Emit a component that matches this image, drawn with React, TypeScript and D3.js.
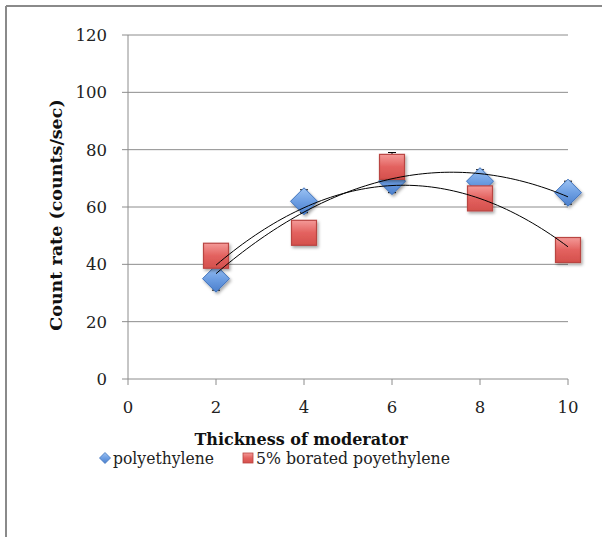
import React from "react";
import * as d3 from "d3";

const thickness = [2, 4, 6, 8, 10];
const polyethylene = [35, 62, 69, 69, 65];
const polyErr = [4, 4, 4, 4, 4];
const borated = [43, 51, 74, 63, 45];
const boratedErr = [3, 3, 5, 3, 3];
const yTicks = [0, 20, 40, 60, 80, 100, 120];
const xTicks = [0, 2, 4, 6, 8, 10];
const seriesNames = ["polyethylene", "5% borated poyethylene"];

function quadFit(xs: number[], ys: number[]) {
  // least squares y = a + b x + c x^2
  const n = xs.length;
  let s = [0, 0, 0, 0, 0];
  let t = [0, 0, 0];
  for (let i = 0; i < n; i++) {
    const x = xs[i], y = ys[i];
    for (let k = 0; k < 5; k++) s[k] += Math.pow(x, k);
    for (let k = 0; k < 3; k++) t[k] += y * Math.pow(x, k);
  }
  const M = [
    [s[0], s[1], s[2], t[0]],
    [s[1], s[2], s[3], t[1]],
    [s[2], s[3], s[4], t[2]],
  ];
  for (let i = 0; i < 3; i++) {
    let p = i;
    for (let r = i + 1; r < 3; r++) if (Math.abs(M[r][i]) > Math.abs(M[p][i])) p = r;
    [M[i], M[p]] = [M[p], M[i]];
    for (let r = 0; r < 3; r++) {
      if (r === i) continue;
      const f = M[r][i] / M[i][i];
      for (let c = i; c < 4; c++) M[r][c] -= f * M[i][c];
    }
  }
  const a = M[0][3] / M[0][0], b = M[1][3] / M[1][1], c = M[2][3] / M[2][2];
  return (x: number) => a + b * x + c * x * x;
}

export default function App() {
  const W = 602, H = 537;
  const x = d3.scaleLinear().domain([0, 10]).range([128, 568]);
  const y = d3.scaleLinear().domain([0, 120]).range([379, 35]);
  const font = "'DejaVu Serif', serif";
  const grid = "#8c8c8c";

  const trend = (ys: number[]) => {
    const f = quadFit(thickness, ys);
    const pts = d3.range(2, 10.001, 0.1).map((v) => [v, f(v)] as [number, number]);
    return d3.line<[number, number]>().x((d) => x(d[0])).y((d) => y(d[1]))(pts) || "";
  };

  const sq = 25, dg = 13.5;
  const diamond = (cx: number, cy: number, r: number) =>
    `M${cx},${cy - r}L${cx + r},${cy}L${cx},${cy + r}L${cx - r},${cy}Z`;

  return (
    <svg width={W} height={H} style={{ position: "absolute", left: 0, top: 0, background: "#fff" }}>
      <defs>
        <linearGradient id="gRed" x1="0" y1="0" x2="0" y2="1">
          <stop offset="0" stopColor="#f49a98" />
          <stop offset="0.5" stopColor="#e3625f" />
          <stop offset="1" stopColor="#d4504c" />
        </linearGradient>
        <linearGradient id="gBlue" x1="0" y1="0" x2="0" y2="1">
          <stop offset="0" stopColor="#9cc3f3" />
          <stop offset="0.5" stopColor="#6e9fe3" />
          <stop offset="1" stopColor="#4b7fcc" />
        </linearGradient>
        <filter id="sh" x="-30%" y="-30%" width="170%" height="170%">
          <feDropShadow dx="1.5" dy="2" stdDeviation="1.5" floodColor="#000" floodOpacity="0.35" />
        </filter>
      </defs>
      {/* outer border */}
      <line x1={6} y1={6} x2={W} y2={6} stroke="#8a8a8a" strokeWidth={2} />
      <line x1={6} y1={6} x2={6} y2={H} stroke="#8a8a8a" strokeWidth={2} />

      {/* grid */}
      {yTicks.map((t) => (
        <g key={"y" + t}>
          <line x1={x(0) - 6} x2={x(10)} y1={y(t)} y2={y(t)} stroke={grid} strokeWidth={1} />
          <text x={107} y={y(t)} dy="0.36em" textAnchor="end" fontFamily={font} fontSize={16.5} fill="#222">
            {t}
          </text>
        </g>
      ))}
      <line x1={x(0)} x2={x(0)} y1={y(120)} y2={y(0)} stroke={grid} />
      {xTicks.map((t) => (
        <g key={"x" + t}>
          <line x1={x(t)} x2={x(t)} y1={y(0)} y2={y(0) + 6} stroke={grid} />
          <text x={x(t)} y={407} dy="0.36em" textAnchor="middle" fontFamily={font} fontSize={16.5} fill="#222">
            {t}
          </text>
        </g>
      ))}

      {/* error bars */}
      {thickness.map((t, i) => (
        <g key={"ep" + i} stroke="#000" strokeWidth={1}>
          <line x1={x(t)} x2={x(t)} y1={y(polyethylene[i] - polyErr[i])} y2={y(polyethylene[i] + polyErr[i])} />
          <line x1={x(t) - 4} x2={x(t) + 4} y1={y(polyethylene[i] - polyErr[i])} y2={y(polyethylene[i] - polyErr[i])} />
          <line x1={x(t) - 4} x2={x(t) + 4} y1={y(polyethylene[i] + polyErr[i])} y2={y(polyethylene[i] + polyErr[i])} />
          <line x1={x(t)} x2={x(t)} y1={y(borated[i] - boratedErr[i])} y2={y(borated[i] + boratedErr[i])} />
          <line x1={x(t) - 4} x2={x(t) + 4} y1={y(borated[i] - boratedErr[i])} y2={y(borated[i] - boratedErr[i])} />
          <line x1={x(t) - 4} x2={x(t) + 4} y1={y(borated[i] + boratedErr[i])} y2={y(borated[i] + boratedErr[i])} />
        </g>
      ))}

      {/* markers */}
      {thickness.map((t, i) => (
        <path key={"p" + i} d={diamond(x(t), y(polyethylene[i]), dg)} fill="url(#gBlue)" stroke="#3f72bb" strokeWidth={1} filter="url(#sh)" />
      ))}
      {thickness.map((t, i) => (
        <rect key={"b" + i} x={x(t) - sq / 2} y={y(borated[i]) - sq / 2} width={sq} height={sq} fill="url(#gRed)" stroke="#b94542" strokeWidth={1.2} filter="url(#sh)" />
      ))}

      {/* trendlines */}
      <path d={trend(polyethylene)} fill="none" stroke="#000" strokeWidth={1} />
      <path d={trend(borated)} fill="none" stroke="#000" strokeWidth={1} />

      {/* axis titles */}
      <text x={301} y={439} dy="0.36em" textAnchor="middle" fontFamily={font} fontSize={16} fontWeight="bold" fill="#111">
        Thickness of moderator
      </text>
      <text transform={`translate(56,215) rotate(-90)`} dy="0.36em" textAnchor="middle" fontFamily={font} fontSize={17.5} fontWeight="bold" fill="#111">
        Count rate (counts/sec)
      </text>

      {/* legend */}
      <path d={diamond(105, 458, 5.5)} fill="url(#gBlue)" stroke="#3f72bb" strokeWidth={0.8} />
      <text x={113} y={458} dy="0.36em" fontFamily={font} fontSize={17.5} fill="#222" textLength={101} lengthAdjust="spacingAndGlyphs">
        {seriesNames[0]}
      </text>
      <rect x={243} y={453} width={10} height={10} fill="url(#gRed)" stroke="#b94542" strokeWidth={0.8} />
      <text x={256} y={458} dy="0.36em" fontFamily={font} fontSize={17.5} fill="#222" textLength={194} lengthAdjust="spacingAndGlyphs">
        {seriesNames[1]}
      </text>
    </svg>
  );
}
